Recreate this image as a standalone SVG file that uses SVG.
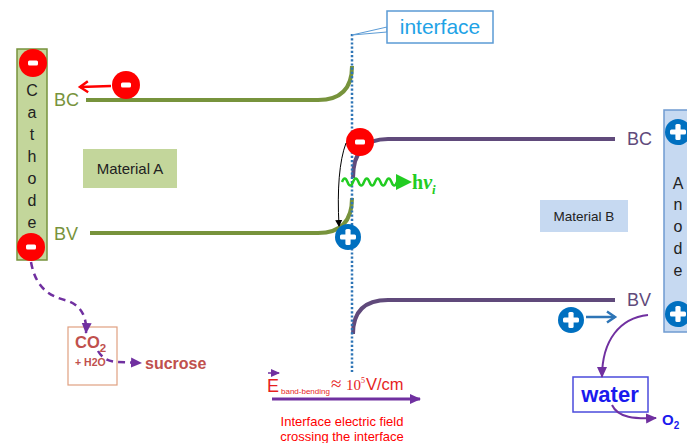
<svg xmlns="http://www.w3.org/2000/svg" width="687" height="443" viewBox="0 0 687 443">
<style>
.sans{font-family:"Liberation Sans",Arial,sans-serif}
.serif{font-family:"Liberation Serif","Times New Roman",serif}
.gline{fill:none;stroke:#77933c;stroke-width:4;stroke-linecap:butt}
.pline{fill:none;stroke:#604a7b;stroke-width:4}
.lblA{font-family:"Liberation Sans",Arial,sans-serif;font-size:18px;fill:#77933c}
.lblB{font-family:"Liberation Sans",Arial,sans-serif;font-size:18px;fill:#604a7b}
.elec{font-family:"Liberation Sans",Arial,sans-serif;font-size:16px;fill:#222}
.dash{fill:none;stroke:#7030a0;stroke-width:2.5;stroke-dasharray:7 5}
.parr{fill:none;stroke:#7030a0;stroke-width:2}
.red{fill:#e61e1e}
</style>
<defs>
<g id="minus"><circle r="14" fill="#ff0000"/><rect x="-5" y="-2.5" width="10" height="5" rx="1.5" fill="#fff"/></g>
<g id="plus"><circle r="13" fill="#0070c0"/><rect x="-8" y="-2.6" width="16" height="5.2" rx="1.5" fill="#fff"/><rect x="-2.6" y="-8" width="5.2" height="16" rx="1.5" fill="#fff"/></g>
<marker id="mp" markerUnits="userSpaceOnUse" markerWidth="12" markerHeight="12" refX="10" refY="5" orient="auto" viewBox="0 0 12 10"><path d="M0,0 L11,5 L0,10 Z" fill="#7030a0"/></marker>
<marker id="mps" markerUnits="userSpaceOnUse" markerWidth="9" markerHeight="8" refX="8" refY="4" orient="auto" viewBox="0 0 9 8"><path d="M0,0 L9,4 L0,8 Z" fill="#7030a0"/></marker>
<marker id="mk" markerUnits="userSpaceOnUse" markerWidth="7" markerHeight="8" refX="6" refY="4" orient="auto" viewBox="0 0 7 8"><path d="M0,0.5 L7,4 L0,7.5 Z" fill="#000"/></marker>
<marker id="mr" markerUnits="userSpaceOnUse" markerWidth="14" markerHeight="14" refX="11" refY="7" orient="auto" viewBox="0 0 14 14"><path d="M3,1.5 L11,7 L3,12.5" fill="none" stroke="#ff0000" stroke-width="2.5"/></marker>
<marker id="mb" markerUnits="userSpaceOnUse" markerWidth="14" markerHeight="14" refX="11" refY="7" orient="auto" viewBox="0 0 14 14"><path d="M3,1.5 L11,7 L3,12.5" fill="none" stroke="#2e75b6" stroke-width="2.5"/></marker>
</defs>
<rect width="687" height="443" fill="#fff"/>

<g id="cathode">
<rect x="17" y="49" width="30" height="211" fill="#c3d69b" stroke="#77933c" stroke-width="1.5"/>
<text class="elec" x="32" y="96" text-anchor="middle">C</text>
<text class="elec" x="32" y="118" text-anchor="middle">a</text>
<text class="elec" x="32" y="140" text-anchor="middle">t</text>
<text class="elec" x="32" y="162" text-anchor="middle">h</text>
<text class="elec" x="32" y="184" text-anchor="middle">o</text>
<text class="elec" x="32" y="206" text-anchor="middle">d</text>
<text class="elec" x="32" y="228" text-anchor="middle">e</text>
<use href="#minus" x="33" y="63"/>
<use href="#minus" x="31" y="247"/>
</g>

<g id="anode">
<rect x="664" y="110" width="40" height="222" fill="#c6d9f1" stroke="#6f9bd1" stroke-width="1.5"/>
<text class="elec" x="678" y="189" text-anchor="middle">A</text>
<text class="elec" x="678" y="210" text-anchor="middle">n</text>
<text class="elec" x="678" y="232" text-anchor="middle">o</text>
<text class="elec" x="678" y="254" text-anchor="middle">d</text>
<text class="elec" x="678" y="276" text-anchor="middle">e</text>
<use href="#plus" x="678" y="132"/>
<use href="#plus" x="678" y="314"/>
</g>

<g id="materialA">
<rect x="83" y="149" width="94" height="39" fill="#c3d69b"/>
<text class="sans" x="130" y="174" text-anchor="middle" font-size="15" fill="#222">Material A</text>
</g>

<g id="materialB">
<rect x="540" y="200" width="88" height="32" fill="#c6d9f1"/>
<text class="sans" x="584" y="221" text-anchor="middle" font-size="13.5" fill="#222">Material B</text>
</g>

<g id="bandsA">
<path class="gline" d="M86,100 L318,100 Q352,100 352,66"/>
<path class="gline" d="M90,233 L318,233 Q352,233 352,198"/>
<text class="lblA" x="54" y="106">BC</text>
<text class="lblA" x="54" y="240">BV</text>
</g>

<g id="bandsB">
<path class="pline" d="M353,178 Q353,139 388,139 L615,139"/>
<path class="pline" d="M353,334 Q353,300 388,300 L615,300"/>
<text class="lblB" x="627" y="145">BC</text>
<text class="lblB" x="627" y="306">BV</text>
</g>

<g id="interface">
<line x1="352" y1="34" x2="352" y2="372" stroke="#2e75b6" stroke-width="2.5" stroke-dasharray="2.2 2"/>
<path d="M352,35 L387,27 L387,32 Z" fill="#fff" stroke="#5b9bd5" stroke-width="1"/>
<rect x="387" y="11" width="106" height="32" fill="#fff" stroke="#5b9bd5" stroke-width="1.5"/>
<text class="sans" x="440" y="34" text-anchor="middle" font-size="21" fill="#1fa3e6">interface</text>
</g>

<g id="photon">
<path d="M342,182 q2.75,-7 5.5,0 t5.5,0 t5.5,0 t5.5,0 t5.5,0 t5.5,0 t5.5,0 t5.5,0 t5.5,0 t5.5,0" fill="none" stroke="#22cc22" stroke-width="2.5"/>
<path d="M396,174 L412,182 L396,190 Z" fill="#22cc22"/>
<text class="serif" x="412" y="189" font-size="20" font-weight="bold" fill="#22cc22">h<tspan font-style="italic">ν</tspan><tspan font-style="italic" font-size="13" dy="5">i</tspan></text>
</g>

<g id="charges">
<use href="#minus" x="126" y="85"/>
<use href="#minus" x="360" y="142"/>
<use href="#plus" x="348" y="237"/>
<use href="#plus" x="571" y="320"/>
</g>

<g id="co2">
<rect x="68" y="327" width="49" height="58" fill="#fff" stroke="#e0a080" stroke-width="1.2"/>
<text class="sans" x="75" y="348" font-size="16.5" font-weight="bold" fill="#c0504d">CO<tspan font-size="11.5" dy="4">2</tspan></text>
<text class="sans" x="75" y="366" font-size="10.5" font-weight="bold" fill="#c0504d">+ H2O</text>
</g>

<g id="sucrose">
<text class="sans" x="145" y="369" font-size="16" font-weight="bold" fill="#c0504d">sucrose</text>
</g>

<g id="water">
<rect x="573" y="377" width="75" height="35" fill="#fff" stroke="#4b4bdc" stroke-width="1.5"/>
<text class="sans" x="610" y="402" text-anchor="middle" font-size="22" font-weight="bold" fill="#1a1aee">water</text>
</g>

<g id="o2">
<text class="sans" x="662" y="425" font-size="15" font-weight="bold" fill="#1a1aee">O<tspan font-size="10" dy="4">2</tspan></text>
</g>

<g id="field">
<line x1="268" y1="373" x2="279" y2="373" stroke="#7030a0" stroke-width="1.5" marker-end="url(#mps)"/>
<text class="sans red" x="267" y="392" font-size="18">E</text>
<text class="sans red" x="281" y="394" font-size="8">band-bending</text>
<text class="serif red" x="331" y="390" font-size="19">≈</text>
<text class="serif red" x="346" y="390" font-size="15">10</text>
<text class="serif red" x="361" y="383" font-size="8">5</text>
<text class="sans red" x="366" y="390" font-size="16.5">V/cm</text>
<line x1="272" y1="399" x2="420" y2="399" stroke="#7030a0" stroke-width="3" marker-end="url(#mp)"/>
<text class="sans" x="342" y="426" text-anchor="middle" font-size="13" fill="#ff0000">Interface electric field</text>
<text class="sans" x="342" y="441" text-anchor="middle" font-size="13" fill="#ff0000">crossing the interface</text>
</g>

<g id="connectors">
<line x1="111" y1="86" x2="80" y2="87" stroke="#ff0000" stroke-width="2.5" marker-end="url(#mr)"/>
<line x1="586" y1="317" x2="615" y2="317" stroke="#2e75b6" stroke-width="2.5" marker-end="url(#mb)"/>
<path d="M346,143 Q336,170 339,226" fill="none" stroke="#000" stroke-width="1" marker-end="url(#mk)"/>
<path class="dash" d="M31,262 C36,290 52,297 68,301 C82,306 87,318 86,333" marker-end="url(#mp)"/>
<path class="dash" d="M98,351 C102,358 108,361 116,362 L141,363" marker-end="url(#mp)"/>
<path class="parr" d="M648,315 C620,318 602,340 602,377" marker-end="url(#mp)"/>
<path class="parr" d="M612,405 C618,418 635,419 656,418" marker-end="url(#mp)"/>
</g>
</svg>
